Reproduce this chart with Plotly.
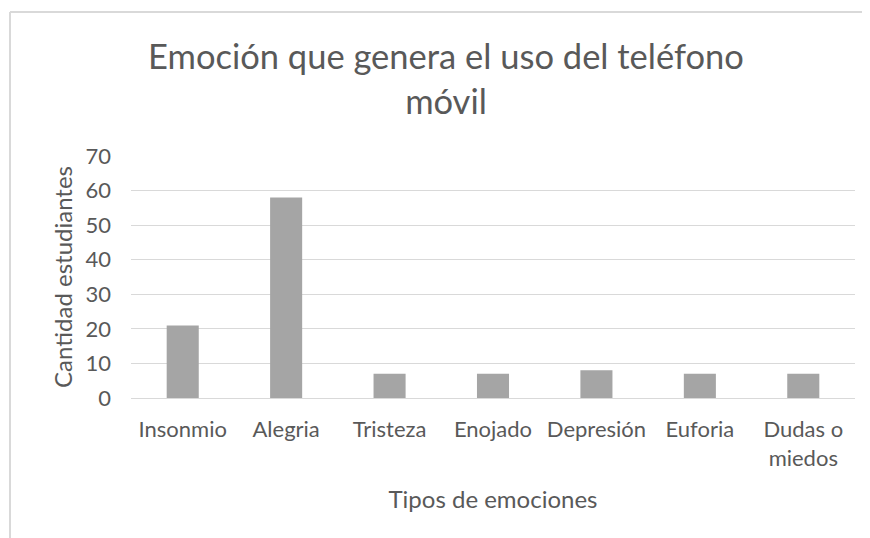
import plotly.graph_objects as go

categories = ["Insonmio", "Alegria", "Tristeza", "Enojado", "Depresión", "Euforia", "Dudas o<br>miedos"]
values = [21, 58, 7, 7, 8, 7, 7]
y_ticks = [0, 10, 20, 30, 40, 50, 60, 70]

title_text = "Emoción que genera el uso del teléfono<br>móvil"
x_title = "Tipos de emociones"
y_title = "Cantidad estudiantes"

FONT = "Lato"
TXT = "#595959"

fig = go.Figure(go.Bar(
    x=categories, y=values,
    marker=dict(color="#A5A5A5", line=dict(color="#A5A5A5", width=0)),
))

# page body has an 8px margin; figure sized to fit the 870x538 window
OFF = 8
W, H = 870 - OFF, 538 - OFF
ml, mr, mt, mb = 131 - OFF, 15, 156 - OFF, 140
pw, ph = W - ml - mr, H - mt - mb

def px_x(X):
    return (X - OFF - ml) / pw

def px_y(Y):
    return (H - mb - (Y - OFF)) / ph

fig.update_layout(
    width=W, height=H,
    margin=dict(l=ml, r=mr, t=mt, b=mb),
    paper_bgcolor="white", plot_bgcolor="white",
    bargap=0.69,
    showlegend=False,
    font=dict(family=FONT, color=TXT, size=22),
    title=dict(text=title_text, x=(446 - OFF) / W, xanchor="center", xref="container",
               y=1 - 61 / H, yanchor="top", yref="container",
               font=dict(family=FONT, size=34.5, color=TXT)),
    xaxis=dict(showgrid=False, showline=False, zeroline=False, ticks="",
               tickfont=dict(size=22, color=TXT), ticklabelstandoff=16,
               title=dict(text=x_title, font=dict(size=24, color=TXT), standoff=21)),
    yaxis=dict(range=[0, 70], tickvals=y_ticks, showgrid=True, gridcolor="#D9D9D9",
               gridwidth=1, zeroline=True, zerolinecolor="#D9D9D9", zerolinewidth=1,
               showline=False, ticks="", tickfont=dict(size=22, color=TXT),
               ticklabelstandoff=19,
               title=dict(text=y_title, font=dict(size=24, color=TXT), standoff=6)),
    shapes=[
        dict(type="line", xref="paper", yref="paper", x0=px_x(10), x1=px_x(875),
             y0=px_y(12), y1=px_y(12), line=dict(color="#D9D9D9", width=2)),
        dict(type="line", xref="paper", yref="paper", x0=px_x(10), x1=px_x(10),
             y0=px_y(12), y1=px_y(545), line=dict(color="#D9D9D9", width=2)),
    ],
)

fig.write_html("out.html")
